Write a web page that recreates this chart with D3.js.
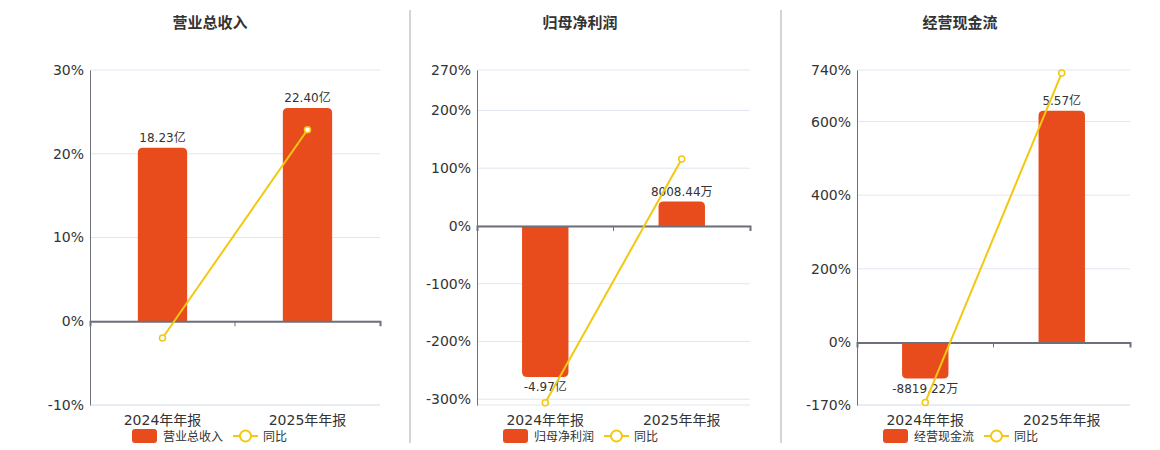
<!DOCTYPE html>
<html>
<head>
<meta charset="utf-8">
<script src="https://cdn.jsdelivr.net/npm/d3@7"></script>
<style>
  body { margin: 0; background: #fff; }
  svg { font-family: "DejaVu Sans", "Noto Sans CJK SC", sans-serif; }
</style>
</head>
<body>
<svg width="1160" height="450"></svg>
<script>
// --- data ---
const categories = ["2024年年报", "2025年年报"];
const titles = ["营业总收入", "归母净利润", "经营现金流"];

// bar values in 亿
const revenue = [18.23, 22.40];
const netProfit = [-4.97, 0.8008];
const cashFlow = [-0.8819, 5.57];
const barLabels = [["18.23亿", "22.40亿"], ["-4.97亿", "8008.44万"], ["-8819.22万", "5.57亿"]];

// year-over-year growth in %
const revenueYoy = [-2.0, 22.87];
const netProfitYoy = [-306, 116.1];
const cashFlowYoy = [-163, 731.6];

// left axis ranges and ticks
const pctDomains = [[-10, 30], [-310, 270], [-170, 740]];
const pctTicks = [[-10, 0, 10, 20, 30], [-300, -200, -100, 0, 100, 200, 270], [-170, 0, 200, 400, 600, 740]];
// hidden bar axis ranges (zero aligned with left axis)
const barDomains = [[-8.83, 26.4], [-5.89, 5.13], [-1.52, 6.55]];

const panels = [
  {title: titles[0], bars: revenue, yoy: revenueYoy},
  {title: titles[1], bars: netProfit, yoy: netProfitYoy},
  {title: titles[2], bars: cashFlow, yoy: cashFlowYoy}
];

const barColor = "#e84c1c", lineColor = "#f2c811";
const svg = d3.select("svg");
const panelLeft = [90, 477, 857], panelW = [290, 273, 273];
const titleX = [210, 580, 960], legendX = [132, 503, 883];
const plotTop = 70, plotBottom = 405;

// separators
[410, 781].forEach(x => svg.append("line")
  .attr("x1", x).attr("x2", x).attr("y1", 10).attr("y2", 443)
  .attr("stroke", "#aaa").attr("stroke-width", 1));

panels.forEach((p, i) => {
  const x0 = panelLeft[i], x1 = x0 + panelW[i];
  const g = svg.append("g");
  const x = d3.scaleBand().domain(categories).range([x0, x1]);
  const y = d3.scaleLinear().domain(pctDomains[i]).range([plotBottom, plotTop]);
  const yb = d3.scaleLinear().domain(barDomains[i]).range([plotBottom, plotTop]);
  const zero = y(0);

  g.append("text").attr("x", titleX[i]).attr("y", 28)
    .attr("text-anchor", "middle").attr("font-size", 15).attr("font-weight", "bold")
    .attr("fill", "#333").text(p.title);

  // gridlines
  const grid = pctTicks[i].concat([pctDomains[i][0]]);
  g.selectAll("line.grid").data(grid).enter().append("line")
    .attr("x1", x0).attr("x2", x1).attr("y1", d => y(d)).attr("y2", d => y(d))
    .attr("stroke", "#e0e6f1").attr("stroke-width", 1);

  // left axis
  const yAxis = d3.axisLeft(y).tickValues(pctTicks[i]).tickSize(0).tickPadding(6).tickFormat(d => d + "%");
  const ya = g.append("g").attr("transform", `translate(${x0},0)`).call(yAxis)
    .attr("font-family", null).attr("font-size", 14);
  ya.select(".domain").attr("stroke", "#6e7079");
  ya.selectAll("text").attr("fill", "#333");

  // bars
  const bw = x.bandwidth() * 0.34, r = 5;
  g.selectAll("path.bar").data(p.bars).enter().append("path")
    .attr("fill", barColor)
    .attr("d", (d, j) => {
      const cx = x(categories[j]) + x.bandwidth() / 2;
      const l = cx - bw / 2, rr = cx + bw / 2, yv = yb(d);
      const s = d >= 0 ? 1 : -1;
      const rad = Math.min(r, Math.abs(zero - yv));
      return `M${l},${zero} L${l},${yv + s * rad} Q${l},${yv} ${l + rad},${yv} L${rr - rad},${yv} Q${rr},${yv} ${rr},${yv + s * rad} L${rr},${zero} Z`;
    });

  // zero axis
  const xa = g.append("g").attr("transform", `translate(0,${zero})`)
    .call(d3.axisBottom(x).tickSize(5).tickFormat(""));
  xa.select(".domain").attr("stroke", "#6e7079").attr("stroke-width", 2);
  xa.selectAll(".tick line").attr("stroke", "#6e7079").attr("transform", `translate(${x.bandwidth() / 2},0)`);
  xa.selectAll(".tick").filter((d, j) => j === 1).remove();

  // bar labels
  g.selectAll("text.val").data(p.bars).enter().append("text")
    .attr("x", (d, j) => x(categories[j]) + x.bandwidth() / 2)
    .attr("y", d => d >= 0 ? yb(d) - 6 : yb(d) + 14)
    .attr("text-anchor", "middle").attr("font-size", 12).attr("fill", "#333")
    .text((d, j) => barLabels[i][j]);

  // category labels
  g.selectAll("text.cat").data(categories).enter().append("text")
    .attr("x", d => x(d) + x.bandwidth() / 2).attr("y", 425)
    .attr("text-anchor", "middle").attr("font-size", 14).attr("fill", "#333")
    .text(d => d);

  // yoy line
  const line = d3.line().x((d, j) => x(categories[j]) + x.bandwidth() / 2).y(d => y(d));
  g.append("path").datum(p.yoy).attr("d", line)
    .attr("fill", "none").attr("stroke", lineColor).attr("stroke-width", 2);
  g.selectAll("circle.pt").data(p.yoy).enter().append("circle")
    .attr("cx", (d, j) => x(categories[j]) + x.bandwidth() / 2).attr("cy", d => y(d))
    .attr("r", 3).attr("fill", "#fff").attr("stroke", lineColor).attr("stroke-width", 1.5);

  // legend
  const lg = g.append("g").attr("transform", `translate(${legendX[i]},436)`);
  lg.append("rect").attr("x", 0).attr("y", -7).attr("width", 25).attr("height", 14).attr("rx", 3).attr("fill", barColor);
  lg.append("text").attr("x", 31).attr("y", 4.5).attr("font-size", 12).attr("fill", "#333").text(p.title);
  lg.append("line").attr("x1", 101).attr("x2", 126).attr("y1", 0).attr("y2", 0)
    .attr("stroke", lineColor).attr("stroke-width", 2);
  lg.append("circle").attr("cx", 113.5).attr("cy", 0).attr("r", 5.5)
    .attr("fill", "#fff").attr("stroke", lineColor).attr("stroke-width", 2);
  lg.append("text").attr("x", 131).attr("y", 4.5).attr("font-size", 12).attr("fill", "#333").text("同比");
});
</script>
</body>
</html>
